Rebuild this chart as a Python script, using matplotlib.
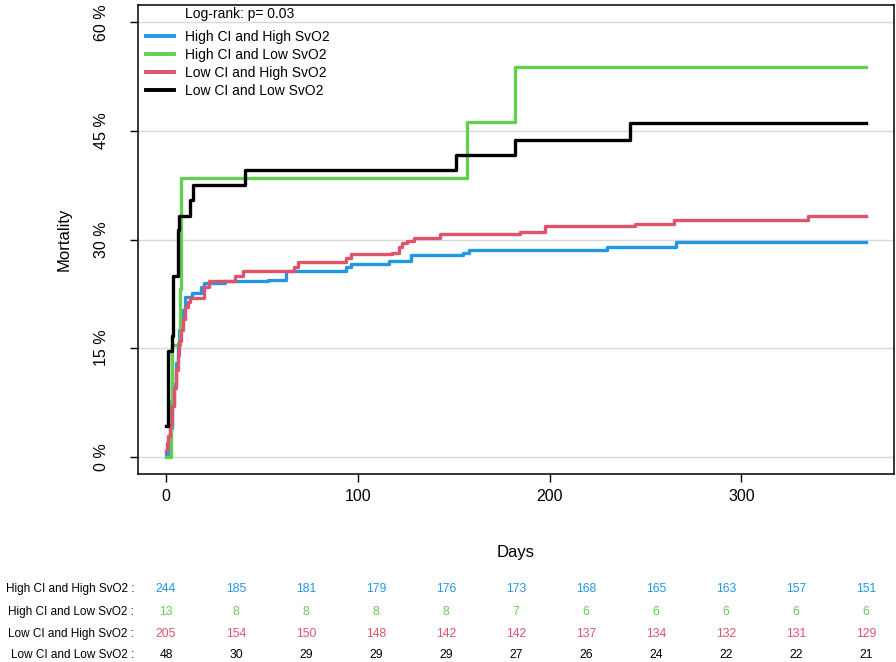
import matplotlib
matplotlib.use("Agg")
import matplotlib.pyplot as plt
from matplotlib.transforms import blended_transform_factory

plt.rcParams['font.family'] = ['Liberation Sans', 'DejaVu Sans']

# ---- data ----
groups = ["High CI and High SvO2", "High CI and Low SvO2",
          "Low CI and High SvO2", "Low CI and Low SvO2"]
colors = ["#2297E6", "#61D04F", "#DF536B", "#000000"]

blue_days = [0, 1, 2, 3, 4, 5, 6, 7, 8, 9, 10, 13.6, 18, 19.6, 30.8, 53.3, 62.8,
             93.9, 96.5, 116.3, 127.5, 155, 157.8, 230, 265.7, 365]
blue_pct = [0.4, 1.8, 4.0, 7.0, 10.0, 13.0, 15.5, 17.5, 19.0, 20.3, 22.1, 22.6, 23.4,
            24.0, 24.2, 24.4, 25.7, 26.2, 26.6, 27.0, 27.8, 28.2, 28.6, 29.0, 29.6, 29.6]

green_days = [0, 2.7, 3.0, 7.3, 7.6, 8.0, 157, 182, 365]
green_pct = [0, 7.7, 15.4, 23.1, 30.8, 38.5, 46.2, 53.8, 53.8]

red_days = [0, 0.5, 1, 2, 3, 4, 5, 6, 7, 8, 9, 10, 11.5, 12.7, 19.6, 22.2, 36, 40.3,
            67, 68.8, 93.9, 96.5, 118, 121.5, 123, 125.8, 129.3, 143, 184.5, 197.5,
            244.5, 265, 334.8, 365]
red_pct = [0.8, 1.9, 2.8, 4.5, 7.0, 9.5, 12.0, 14.0, 16.0, 17.5, 19.0, 20.7, 21.4,
           21.9, 23.5, 24.3, 25.0, 25.7, 26.2, 26.9, 27.4, 28.0, 28.2, 29.0, 29.5,
           29.8, 30.2, 30.7, 31.1, 31.8, 32.2, 32.7, 33.2, 33.2]

black_days = [0, 1, 3, 3.5, 6, 7, 12.7, 14, 41, 151, 182, 242, 365]
black_pct = [4.2, 14.6, 16.7, 25.0, 31.25, 33.3, 35.4, 37.5, 39.6, 41.7, 43.7, 46.1, 46.1]

yticks = [0, 15, 30, 45, 60]
ytick_labels = ["0 %", "15 %", "30 %", "45 %", "60 %"]
xticks = [0, 100, 200, 300]

risk_times = [0, 36.5, 73, 109.5, 146, 182.5, 219, 255.5, 292, 328.5, 365]
risk_hh = [244, 185, 181, 179, 176, 173, 168, 165, 163, 157, 151]
risk_hl = [13, 8, 8, 8, 8, 7, 6, 6, 6, 6, 6]
risk_lh = [205, 154, 150, 148, 142, 142, 137, 134, 132, 131, 129]
risk_ll = [48, 30, 29, 29, 29, 27, 26, 24, 22, 22, 21]

logrank_text = "Log-rank: p= 0.03"

# ---- figure ----
W, H = 896, 662
fig = plt.figure(figsize=(W / 100, H / 100), dpi=100)
ax = fig.add_axes([138 / W, 1 - 474 / H, (894 - 138) / W, (474 - 5) / H])

ax.set_xlim(-14.6, 379.6)
ax.set_ylim(-2.4, 62.4)

for yv in yticks:
    ax.axhline(yv, color="#D9D9D9", lw=1.0, zorder=0)

series = [(blue_days, blue_pct), (green_days, green_pct),
          (red_days, red_pct), (black_days, black_pct)]
for (d, p), c, g in zip(series, colors, groups):
    ax.step(d, p, where="post", color=c, lw=2.4, label=g, zorder=3)

ax.set_xticks(xticks)
ax.set_yticks(yticks)
ax.set_yticklabels(ytick_labels, rotation=90, va="center")
ax.tick_params(axis="both", direction="out", length=6, width=1.0, labelsize=11.5)
ax.tick_params(axis="y", pad=15)
ax.tick_params(axis="x", pad=5)
for s in ax.spines.values():
    s.set_linewidth(1.1)

ax.set_xlabel("Days", fontsize=12, labelpad=29)
ax.set_ylabel("Mortality", fontsize=12, labelpad=16)

leg = ax.legend(loc="upper left", bbox_to_anchor=(146 / W, 1 - 30 / H),
                bbox_transform=fig.transFigure, frameon=False, fontsize=10,
                handlelength=2.0, handletextpad=0.8, labelspacing=0.28,
                borderpad=0, borderaxespad=0)
for ln in leg.get_lines():
    ln.set_linewidth(2.8)
fig.text(185 / W, 1 - 14 / H, logrank_text, fontsize=10, ha="left", va="center")

# ---- risk table ----
tr = blended_transform_factory(ax.transData, fig.transFigure)
rows = [risk_hh, risk_hl, risk_lh, risk_ll]
row_y = [589, 612, 634, 655]
for vals, c, g, yp in zip(rows, colors, groups, row_y):
    yf = 1 - yp / H
    fig.text(134 / W, yf, g + " :", fontsize=8.5, ha="right", va="center")
    for t, v in zip(risk_times, vals):
        ax.text(t, yf, str(v), transform=tr, fontsize=8.8, ha="center",
                va="center", color=c, clip_on=False)

fig.savefig("out.png", dpi=100)
